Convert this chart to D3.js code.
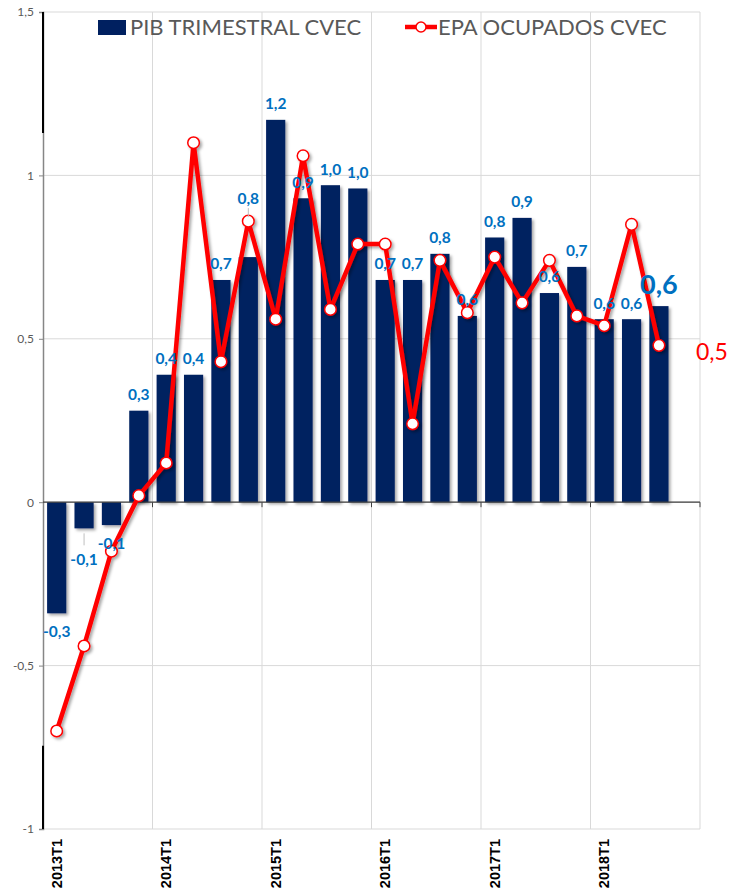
<!DOCTYPE html>
<html>
<head>
<meta charset="utf-8">
<script src="https://cdn.jsdelivr.net/npm/d3@7"></script>
<style>
body { margin: 0; background: #fff; }
</style>
</head>
<body>
<div id="chart"></div>
<script>
const quarters = [
    "2013T1", "2013T2", "2013T3", "2013T4",
    "2014T1", "2014T2", "2014T3", "2014T4",
    "2015T1", "2015T2", "2015T3", "2015T4",
    "2016T1", "2016T2", "2016T3", "2016T4",
    "2017T1", "2017T2", "2017T3", "2017T4",
    "2018T1", "2018T2", "2018T3", "2018T4"
];
const pibTrimestral = [-0.34, -0.08, -0.07, 0.28, 0.39, 0.39, 0.68, 0.75, 1.17, 0.93, 0.97, 0.96,
                       0.68, 0.68, 0.76, 0.57, 0.81, 0.87, 0.64, 0.72, 0.56, 0.56, 0.60];
const epaOcupados = [-0.70, -0.44, -0.15, 0.02, 0.12, 1.10, 0.43, 0.86, 0.56, 1.06, 0.59, 0.79,
                     0.79, 0.24, 0.74, 0.58, 0.75, 0.61, 0.74, 0.57, 0.54, 0.85, 0.48];
const yTicks = [-1, -0.5, 0, 0.5, 1, 1.5];
const seriesNames = ["PIB TRIMESTRAL CVEC", "EPA OCUPADOS CVEC"];

const fmt = v => v.toFixed(1).replace(".", ",");

function drawChart(selector) {
    const W = 733, H = 892;
    const margin = {top: 12, right: 33, bottom: 63, left: 43};
    const x0 = margin.left, x1 = W - margin.right;
    const y0 = margin.top, y1 = H - margin.bottom;

    const svg = d3.select(selector).append("svg")
        .attr("width", W).attr("height", H)
        .style("font-family", "Lato, 'Open Sans', sans-serif");

    const defs = svg.append("defs");
    const f = defs.append("filter").attr("id", "shadow")
        .attr("x", "-20%").attr("y", "-20%").attr("width", "160%").attr("height", "160%");
    f.append("feDropShadow").attr("dx", 2).attr("dy", 2).attr("stdDeviation", 1.5)
        .attr("flood-color", "#000").attr("flood-opacity", 0.35);

    const x = d3.scaleBand().domain(quarters).range([x0, x1])
        .paddingInner(0.3).paddingOuter(0.15);
    const y = d3.scaleLinear().domain([-1, 1.5]).range([y1, y0]);
    const step = x.step();
    const boundary = i => x0 + i * step;

    // gridlines
    const grid = svg.append("g").attr("stroke", "#d9d9d9").attr("stroke-width", 1);
    yTicks.forEach(t => {
        grid.append("line").attr("x1", x0).attr("x2", x1)
            .attr("y1", y(t)).attr("y2", y(t));
    });
    d3.range(4, quarters.length + 1, 4).forEach(i => {
        grid.append("line").attr("x1", boundary(i)).attr("x2", boundary(i))
            .attr("y1", y0).attr("y2", y1);
    });

    // y axis
    const yAxis = svg.append("g")
        .attr("transform", `translate(${x0},0)`)
        .call(d3.axisLeft(y).tickValues(yTicks).tickSize(4).tickPadding(5)
            .tickFormat(d => String(d).replace(".", ",")));
    yAxis.select(".domain").attr("stroke", "#868686").attr("stroke-width", 1.5);
    yAxis.selectAll(".tick line").attr("stroke", "#868686");
    yAxis.selectAll(".tick text").attr("fill", "#595959")
        .style("font-size", "12px").style("font-family", "Lato, sans-serif");
    // dark segments at the ends of the axis
    [[1.5, 1.13], [-0.745, -1]].forEach(([a, b]) => {
        svg.append("line").attr("x1", x0).attr("x2", x0)
            .attr("y1", y(a)).attr("y2", y(b))
            .attr("stroke", "#000").attr("stroke-width", 2);
    });

    // bars
    svg.append("g").attr("filter", "url(#shadow)")
        .selectAll("rect").data(pibTrimestral).join("rect")
        .attr("x", (d, i) => x(quarters[i]))
        .attr("width", x.bandwidth())
        .attr("y", d => y(Math.max(0, d)))
        .attr("height", d => Math.abs(y(d) - y(0)))
        .attr("fill", "#002060");

    // zero axis
    svg.append("line").attr("x1", x0).attr("x2", x1)
        .attr("y1", y(0)).attr("y2", y(0))
        .attr("stroke", "#404040").attr("stroke-width", 1.2);
    d3.range(4, quarters.length + 1, 4).forEach(i => {
        svg.append("line").attr("x1", boundary(i)).attr("x2", boundary(i))
            .attr("y1", y(0)).attr("y2", y(0) + 5)
            .attr("stroke", "#404040");
    });

    // x labels
    svg.append("g").selectAll("text")
        .data(quarters.filter(q => q.endsWith("T1"))).join("text")
        .attr("transform", d => `translate(${x(d) + x.bandwidth() / 2},${y1 + 10}) rotate(-90)`)
        .attr("text-anchor", "end").attr("dy", "0.35em")
        .attr("font-weight", "bold").attr("font-size", 14.5)
        .attr("font-family", "'Liberation Sans', Arial, sans-serif")
        .attr("fill", "#000")
        .text(d => d);

    // line
    const cx = i => x(quarters[i]) + x.bandwidth() / 2;
    const line = d3.line().x((d, i) => cx(i)).y(d => y(d));
    const lg = svg.append("g").attr("filter", "url(#shadow)");
    lg.append("path").datum(epaOcupados)
        .attr("d", line).attr("fill", "none")
        .attr("stroke", "#ff0000").attr("stroke-width", 4.5)
        .attr("stroke-linejoin", "round");
    lg.selectAll("circle").data(epaOcupados).join("circle")
        .attr("cx", (d, i) => cx(i)).attr("cy", d => y(d)).attr("r", 5.8)
        .attr("fill", "#fff").attr("stroke", "#ff0000").attr("stroke-width", 1.5);

    // bar labels
    const shift = {1: 13, 7: -43};
    const last = pibTrimestral.length - 1;
    pibTrimestral.forEach((d, i) => {
        let ly = d < 0 ? y(d) + 18 : y(d) - 16;
        if (shift[i]) ly += shift[i];
        if (i === last) ly = y(d) - 22;
        svg.append("text")
            .attr("x", cx(i)).attr("y", ly).attr("dy", "0.35em")
            .attr("text-anchor", "middle")
            .attr("font-weight", "bold")
            .attr("font-size", i === last ? 27 : 15.5)
            .attr("fill", "#0070c0")
            .text(fmt(d));
    });
    // leader lines
    svg.append("line").attr("x1", cx(1)).attr("x2", cx(1))
        .attr("y1", y(pibTrimestral[1]) + 5).attr("y2", y(pibTrimestral[1]) + 17)
        .attr("stroke", "#bfbfbf");
    svg.append("line").attr("x1", cx(7)).attr("x2", cx(7))
        .attr("y1", y(pibTrimestral[7]) - 49).attr("y2", y(pibTrimestral[7]) - 40)
        .attr("stroke", "#bfbfbf");

    // last EPA label
    const le = epaOcupados.length - 1;
    svg.append("text")
        .attr("x", cx(le) + 53).attr("y", y(epaOcupados[le]) + 7).attr("dy", "0.35em")
        .attr("text-anchor", "middle").attr("font-size", 23)
        .attr("fill", "#ff0000")
        .text(fmt(epaOcupados[le]));

    // legend
    const leg = svg.append("g");
    leg.append("rect").attr("x", 98).attr("y", 20).attr("width", 28).attr("height", 15)
        .attr("fill", "#002060");
    leg.append("text").attr("x", 130).attr("y", 35)
        .attr("font-size", 22).attr("fill", "#595959").text(seriesNames[0]);
    leg.append("line").attr("x1", 405).attr("x2", 437).attr("y1", 27).attr("y2", 27)
        .attr("stroke", "#ff0000").attr("stroke-width", 4.5);
    leg.append("circle").attr("cx", 421).attr("cy", 27).attr("r", 5)
        .attr("fill", "#fff").attr("stroke", "#ff0000").attr("stroke-width", 1.5);
    leg.append("text").attr("x", 438).attr("y", 35)
        .attr("font-size", 22).attr("fill", "#595959").text(seriesNames[1]);
}

drawChart("#chart");
</script>
</body>
</html>
